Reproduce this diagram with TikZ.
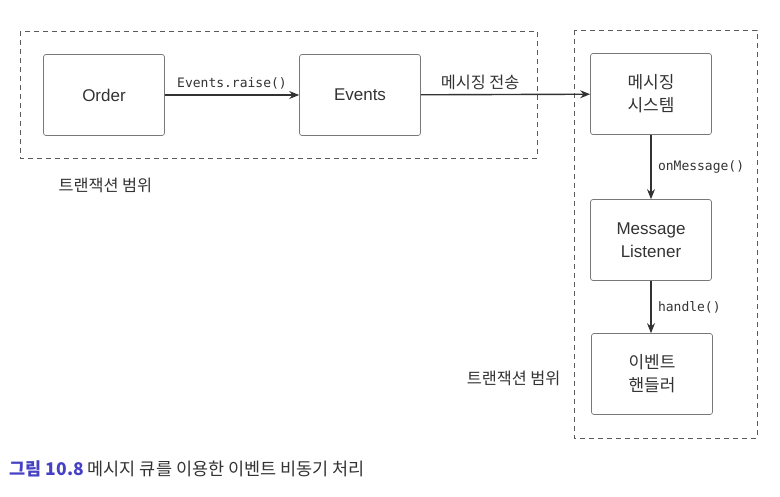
\documentclass[tikz,border=0pt]{standalone}
\usepackage{fontspec}
\setmainfont{Liberation Sans}
\setmonofont{DejaVu Sans Mono}
\newfontfamily\kr{Noto Sans CJK KR}
\usetikzlibrary{arrows.meta}
\definecolor{framegray}{RGB}{90,90,90}
\definecolor{boxgray}{RGB}{120,120,120}
\definecolor{arrowgray}{RGB}{50,50,50}
\definecolor{figblue}{RGB}{70,64,196}

\begin{document}
\begin{tikzpicture}[x=1pt, y=-1pt,
        every node/.style={text=black!80, font=\fontsize{17pt}{23pt}\selectfont},
        block/.style={draw=boxgray, rounded corners=2.5pt, line width=0.7pt, minimum width=121pt, minimum height=81pt, align=center},
        krblock/.style={block, font=\kr\fontsize{17pt}{23pt}\selectfont},
        scopebox/.style={draw=framegray, dash pattern=on 5pt off 4pt, line width=1pt},
        flow/.style={draw=arrowgray, line width=1.4pt, -{Stealth[length=10pt, width=8pt]}},
        call/.style={font=\ttfamily\fontsize{13pt}{15pt}\selectfont},
        note/.style={font=\kr\fontsize{16.3pt}{19pt}\selectfont}]
    \useasboundingbox (0,0) rectangle (780,496);
    % transaction scopes
    \draw[scopebox] (20,31) rectangle (537,158);
    \draw[scopebox] (574,30) rectangle (757,438);
    \node[note, anchor=west] (scope1) at (55,185) {트랜잭션 범위};
    \node[note, anchor=east] (scope2) at (564,378) {트랜잭션 범위};
    \node[block] (order) at (104,95) {Order};
    \node[block] (events) at (360,95) {Events};
    \node[krblock] (msgsys) at (651,94) {메시징\\시스템};
    \node[block] (listener) at (651,240) {Message\\Listener};
    \node[krblock] (handler) at (652,374) {이벤트\\핸들러};
    \draw[flow] (order) -- node[call, above=2pt] {Events.raise()} (events);
    \draw[flow] (events) -- node[note, above=1pt, pos=0.35] {메시징 전송} (msgsys);
    \draw[flow] (msgsys) -- node[call, right=3pt] {onMessage()} (listener);
    \draw[flow] (listener) -- node[call, right=3pt] {handle()} (handler.north -| listener);
    % caption
    \node[anchor=west, font=\kr\fontsize{17.5pt}{20pt}\selectfont] (caption) at (6,469)
        {{\bfseries\color{figblue}그림 10.8} 메시지 큐를 이용한 이벤트 비동기 처리};
\end{tikzpicture}
\end{document}
